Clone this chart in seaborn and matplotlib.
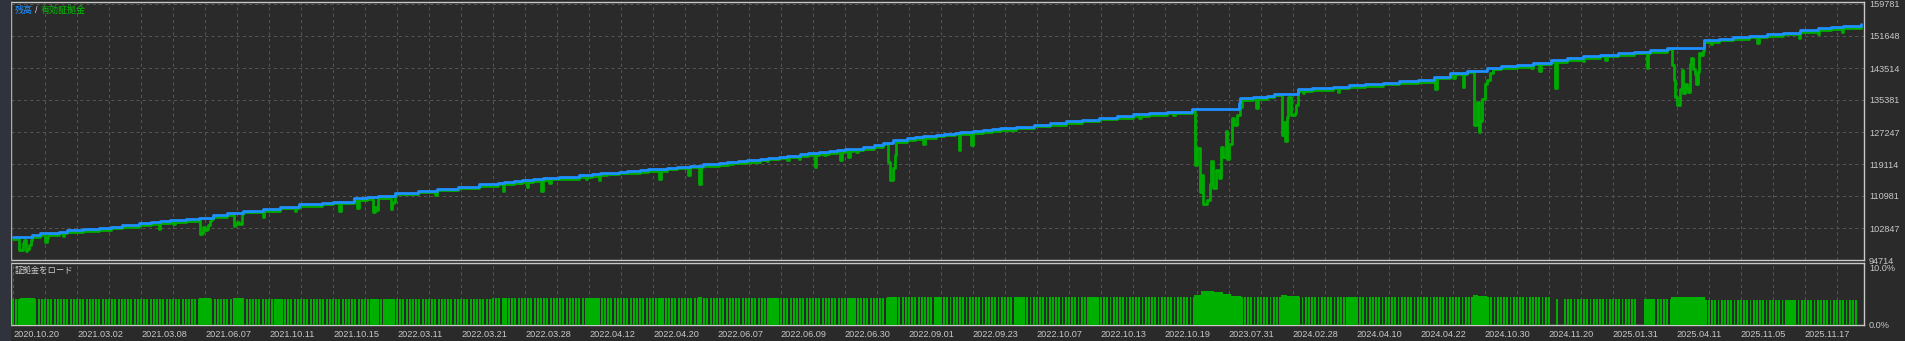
import numpy as np
import pandas as pd
import matplotlib
matplotlib.use("Agg")
import matplotlib.pyplot as plt
import matplotlib.transforms as mtrans
from matplotlib.patches import Rectangle
import seaborn as sns

# ---------------- data ----------------
# balance curve: deal number -> balance
bal_deal = [0, 12, 17, 29, 34, 44, 54, 61, 68, 79,
            86, 92, 98, 108, 116, 125, 134, 144, 156, 167,
            179, 193, 200, 213, 221, 228, 239, 253, 265, 278,
            291, 303, 307, 313, 318, 325, 331, 336, 341, 354,
            362, 367, 371, 379, 384, 392, 397, 409, 415, 423,
            431, 441, 446, 450, 453, 459, 467, 472, 479, 484,
            492, 497, 504, 510, 515, 520, 525, 531, 538, 544,
            550, 559, 564, 569, 577, 582, 589, 592, 600, 606,
            612, 617, 627, 638, 648, 658, 668, 679, 690, 700,
            710, 721, 737, 766, 767, 775, 784, 788, 803, 812,
            825, 835, 845, 856, 866, 878, 888, 898, 909, 921,
            930, 940, 950, 961, 971, 981, 992, 1003, 1013, 1023,
            1034, 1057, 1066, 1075, 1085, 1096, 1106, 1117, 1128, 1136,
            1144, 1155]
bal_value = [100480, 101070, 101500, 101900, 102340, 102500, 102770, 103180, 103530, 104040,
             104300, 104550, 104880, 105140, 105470, 106150, 106600, 107250, 107680, 108260,
             108870, 109280, 109530, 110400, 110700, 110980, 111820, 112330, 112840, 113350,
             113960, 114360, 114520, 114760, 114950, 115230, 115450, 115630, 115810, 116280,
             116570, 116750, 116890, 117160, 117330, 117600, 117770, 118180, 118400, 118700,
             119000, 119370, 119560, 119700, 119830, 120100, 120460, 120680, 121000, 121220,
             121580, 121800, 122100, 122400, 122600, 122800, 123000, 123350, 123900, 124500,
             125220, 125650, 125900, 126150, 126550, 126800, 127050, 127200, 127450, 127700,
             127950, 128190, 128600, 129100, 129500, 129950, 130400, 130880, 131300, 131750,
             132050, 132410, 133020, 134600, 135810, 136100, 136470, 136980, 138180, 138450,
             138760, 139100, 139450, 139780, 140100, 140470, 141300, 142320, 142830, 143590,
             143900, 144200, 144900, 145550, 146050, 146570, 146900, 147250, 147650, 148090,
             148670, 150630, 150950, 151320, 151700, 152100, 152490, 153050, 153610, 153900,
             154190, 154620]

# equity where it departs from the balance (floating drawdowns)
eq_deal = [4, 5, 6, 7, 8, 9, 10, 11, 20, 21,
           31, 91, 100, 117, 118, 119, 120, 121, 122, 123,
           138, 139, 140, 141, 142, 143, 156, 176, 204, 215,
           225, 226, 227, 236, 237, 238, 264, 290, 306, 321,
           330, 335, 358, 366, 404, 422, 429, 446, 471, 484,
           491, 501, 507, 517, 522, 527, 547, 548, 549, 550,
           551, 569, 591, 599, 704, 725, 739, 740, 741, 742,
           743, 744, 745, 746, 747, 748, 749, 750, 751, 752,
           753, 754, 755, 756, 757, 758, 759, 760, 761, 762,
           763, 764, 765, 766, 767, 777, 793, 794, 795, 796,
           797, 798, 799, 800, 801, 802, 806, 828, 889, 900,
           906, 913, 914, 915, 916, 917, 918, 919, 920, 921,
           922, 923, 924, 949, 954, 964, 981, 995, 1021, 1037,
           1038, 1039, 1040, 1041, 1042, 1043, 1044, 1045, 1046, 1047,
           1048, 1049, 1050, 1051, 1052, 1053, 1054, 1055, 1056, 1061,
           1090, 1116, 1128, 1143]
eq_value = [97700, 97700, 99500, 100100, 97430, 98000, 99000, 100200, 99800, 100700,
            101100, 103100, 104300, 101650, 101900, 103600, 102770, 103000, 104100, 105060,
            103870, 104200, 104880, 104200, 104300, 106700, 106150, 107700, 107600, 108300,
            107250, 108500, 107900, 108100, 109500, 109800, 111700, 113300, 112700, 113600,
            112700, 114700, 115700, 115480, 115730, 116750, 114360, 119300, 120310, 120560,
            120815, 118785, 121830, 120460, 121325, 122495, 119950, 115400, 115400, 118430,
            121830, 124530, 123000, 124375, 131300, 131900, 119290, 123510, 123510, 112500,
            116800, 109280, 109280, 110400, 110400, 114500, 120310, 113350, 113350, 118020,
            118020, 115890, 123940, 121400, 121400, 127930, 120820, 124530, 124530, 131140,
            129540, 129540, 132000, 132000, 134110, 133680, 126920, 130300, 125390, 131570,
            136650, 136650, 132000, 132000, 132400, 134540, 137490, 137745, 138610, 141300,
            139190, 129460, 129460, 135380, 127760, 130470, 136070, 136070, 139780, 140900,
            140900, 142575, 142575, 143845, 143180, 138760, 145726, 146000, 144023, 144700,
            140900, 136650, 134540, 134540, 138500, 143400, 137500, 139800, 138900, 137700,
            144900, 146500, 143600, 142400, 139800, 143000, 147800, 147250, 148300, 149950,
            150200, 151650, 152490, 153170]

# margin load: deal ranges, level in %, and whether positions are held
# continuously ("solid"), open/close alternating ("alt") or none ("gap")
load_from = [0, 5, 14, 117, 124, 138, 145, 164, 169, 225,
             228, 232, 239, 300, 306, 308, 358, 367, 404, 406,
             429, 431, 473, 478, 522, 526, 547, 553, 576, 580,
             627, 632, 673, 679, 739, 743, 751, 757, 762, 768,
             793, 797, 804, 834, 841, 913, 916, 922, 962, 970,
             1016, 1019, 1021, 1026, 1037, 1058, 1109, 1114]
load_to = [5, 14, 117, 124, 138, 145, 164, 169, 225, 228,
           232, 239, 300, 306, 308, 358, 367, 404, 406, 429,
           431, 473, 478, 522, 526, 547, 553, 576, 580, 627,
           632, 673, 679, 739, 743, 751, 757, 762, 768, 793,
           797, 804, 834, 841, 913, 916, 922, 962, 970, 1016,
           1019, 1021, 1026, 1037, 1058, 1109, 1114, 1154]
load_pct = [4.55, 4.75, 4.55, 4.8, 4.55, 4.75, 4.55, 4.55, 4.55, 4.6,
            4.55, 4.6, 4.55, 4.8, 4.8, 4.8, 4.8, 4.8, 4.8, 4.8,
            4.85, 4.8, 4.8, 4.8, 4.8, 4.8, 4.9, 4.85, 4.85, 4.85,
            4.85, 4.9, 4.9, 4.95, 5.3, 5.9, 5.75, 5.5, 5.15, 4.95,
            5.25, 5.0, 4.86, 4.86, 4.86, 5.25, 5.0, 4.86, 0.0, 4.6,
            0.0, 4.6, 4.6, 4.6, 4.95, 4.45, 4.45, 4.45]
load_kind = ["alt", "solid", "alt", "solid", "alt", "solid", "alt", "solid", "alt", "solid",
             "alt", "solid", "alt", "alt", "solid", "alt", "solid", "alt", "solid", "alt",
             "solid", "alt", "solid", "alt", "solid", "alt", "solid", "alt", "solid", "alt",
             "solid", "alt", "solid", "alt", "solid", "solid", "solid", "solid", "solid", "alt",
             "solid", "solid", "alt", "solid", "alt", "solid", "solid", "alt", "gap", "alt",
             "gap", "alt", "solid", "alt", "solid", "alt", "solid", "alt"]
extra_bar_deal = [965]
extra_bar_pct = [4.6]

x_labels = ["2020.10.20", "2021.03.02", "2021.03.08", "2021.06.07", "2021.10.11",
            "2021.10.15", "2022.03.11", "2022.03.21", "2022.03.28", "2022.04.12",
            "2022.04.20", "2022.06.07", "2022.06.09", "2022.06.30", "2022.09.01",
            "2022.09.23", "2022.10.07", "2022.10.13", "2022.10.19", "2023.07.31",
            "2024.02.28", "2024.04.10", "2024.04.22", "2024.10.30", "2024.11.20",
            "2025.01.31", "2025.04.11", "2025.11.05", "2025.11.17"]
x_label_step = 40
y_ticks = [94714, 102847, 110981, 119114, 127247, 135381, 143514, 151648, 159781]
load_ticks = [0, 10]
load_tick_labels = ["0.0%", "10.0%"]

# ---------------- build tables ----------------
bal_df = pd.DataFrame({"deal": bal_deal, "value": bal_value})

dips = dict(zip(eq_deal, eq_value))
pts = set(bal_deal) | set(eq_deal) | {d + 1 for d in eq_deal if d + 1 not in dips}
pts = sorted(p for p in pts if p <= bal_deal[-1])
bal_arr = np.array(bal_deal)


def bal_at(d):
    i = np.searchsorted(bal_arr, d, side="right") - 1
    return bal_value[i]


eq_df = pd.DataFrame({"deal": pts, "value": [dips.get(d, bal_at(d)) for d in pts]})

bar_x, bar_y = [], []
for a, b, p, k in zip(load_from, load_to, load_pct, load_kind):
    for d in range(a, b):
        if k == "solid" or (k == "alt" and d % 2 == 0):
            bar_x.append(d)
            bar_y.append(p)
for d, p in zip(extra_bar_deal, extra_bar_pct):
    bar_x.append(d)
    bar_y.append(p)
load_df = pd.DataFrame({"deal": bar_x, "load": bar_y}).sort_values("deal")

# ---------------- style ----------------
BG = "#2a2a2a"
FG = "#c8c8c8"
GRID = "#555555"
BLUE = "#1e90ff"
GREEN = "#00aa00"

sns.set_theme(style="dark", rc={
    "figure.facecolor": BG, "axes.facecolor": BG, "savefig.facecolor": BG,
    "axes.edgecolor": FG, "text.color": FG, "xtick.color": FG, "ytick.color": FG,
})
plt.rcParams["font.family"] = ["Liberation Sans", "Noto Sans CJK JP", "DejaVu Sans"]

W, H = 1905, 341
fig = plt.figure(figsize=(W / 100, H / 100), dpi=100)
fig.patches.append(Rectangle((0, 0), 10 / W, 1, transform=fig.transFigure,
                             color="#30333b", zorder=0))

left, right = 11, 1864
ax = fig.add_axes([left / W, 1 - 260 / H, (right - left) / W, (260 - 2) / H])
ax2 = fig.add_axes([left / W, 1 - 325 / H, (right - left) / W, (325 - 262.5) / H])

xmin, xmax = -1.25, 1156.9
grid_kw = dict(color=GRID, linestyle=(0, (3, 3)), linewidth=0.75)

# ---- main panel ----
sns.lineplot(data=eq_df, x="deal", y="value", ax=ax, color=GREEN, linewidth=2.0,
             drawstyle="steps-post", estimator=None, sort=False, zorder=3)
ax.lines[-1].set_transform(ax.transData +
                           mtrans.ScaledTranslation(0, -1.6 / 100, fig.dpi_scale_trans))
sns.lineplot(data=bal_df, x="deal", y="value", ax=ax, color=BLUE, linewidth=2.0,
             drawstyle="steps-post", estimator=None, sort=False, zorder=4)

ax.set_xlim(xmin, xmax)
ax.set_ylim(94714, 160289)
ax.set_xlabel("")
ax.set_ylabel("")
ax.set_xticks(range(20, 1141, 20))
ax.set_yticks(y_ticks)
ax.set_yticklabels([str(v) for v in y_ticks])
ax.yaxis.tick_right()
ax.tick_params(axis="x", which="both", length=0, labelbottom=False)
ax.tick_params(axis="y", length=0, pad=3.6, labelsize=6.6, labelcolor=FG)
ax.grid(True, **grid_kw)
for s in ax.spines.values():
    s.set_color(FG)
    s.set_linewidth(1.0)
    s.set_visible(True)

# ---- margin load panel ----
sns.barplot(data=load_df, x="deal", y="load", ax=ax2, native_scale=True,
            color="#00b000", saturation=1, width=1.15, linewidth=0,
            edgecolor="none", errorbar=None, zorder=3)
ax2.set_xlim(xmin, xmax)
ax2.set_ylim(0, 10.96)
ax2.set_xlabel("")
ax2.set_ylabel("")
major = list(range(0, x_label_step * len(x_labels), x_label_step))
ax2.set_xticks(major)
ax2.set_xticks([m + 20 for m in major], minor=True)
ax2.set_xticklabels(x_labels, ha="left")
ax2.tick_params(axis="x", which="both", length=2.5, width=0.8, color=FG,
                labelcolor=FG, labelsize=6.6, pad=1.2)
ax2.set_yticks(load_ticks)
ax2.set_yticklabels(load_tick_labels)
ax2.yaxis.tick_right()
ax2.tick_params(axis="y", length=0, pad=3.6, labelsize=6.6, labelcolor=FG)
ax2.grid(True, which="both", axis="x", **grid_kw)
ax2.grid(False, axis="y")
ax2.set_axisbelow(True)
for s in ax2.spines.values():
    s.set_color(FG)
    s.set_linewidth(1.0)
    s.set_visible(True)

# ---- legend-like titles ----
fig.text(15 / W, 1 - 10.5 / H, "残高", color=BLUE, fontsize=6.5, va="center", ha="left")
fig.text(35 / W, 1 - 10.5 / H, "/", color="#d8d8d8", fontsize=6.5, va="center", ha="left")
fig.text(41 / W, 1 - 10.5 / H, "有効証拠金", color="#00c000", fontsize=6.5, va="center", ha="left")
fig.text(15 / W, 1 - 270.5 / H, "証拠金をロード", color="#d0d0d0", fontsize=6.0,
         va="center", ha="left")

fig.savefig("out.png", dpi=100, facecolor=BG)
